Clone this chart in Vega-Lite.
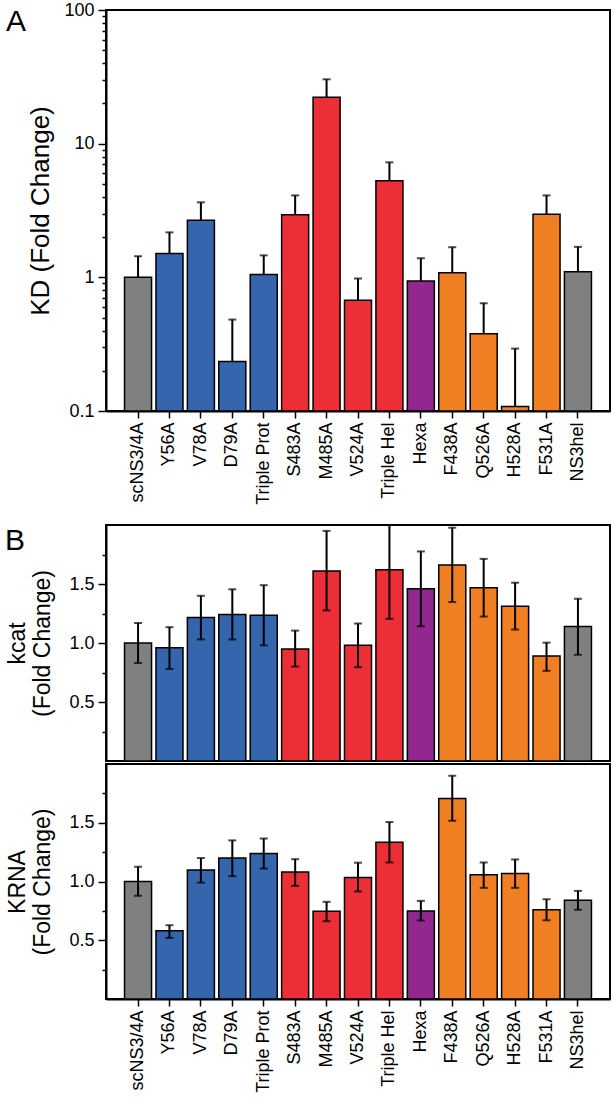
{
  "$schema": "https://vega.github.io/schema/vega-lite/v6.json",
  "padding": {"left": 3, "top": 0, "right": 0, "bottom": 0},
  "config": {
    "view": {"stroke": "black", "strokeWidth": 2},
    "font": "Liberation Sans",
    "axis": {
      "domainColor": "black", "domainWidth": 2, "tickColor": "black", "tickWidth": 1.5,
      "labelColor": "black", "labelFont": "Liberation Sans", "labelFontSize": 18,
      "titleFont": "Liberation Sans", "titleFontWeight": "normal", "titleColor": "black",
      "grid": false
    },
    "title": {"font": "Liberation Sans", "fontWeight": "normal", "color": "black"}
  },
  "datasets": {
    "d": [
      {"cat": "scNS3/4A", "group": "gray", "kd": 1.0, "kd_hi": 1.44, "kcat": 1.0, "kcat_lo": 0.83, "kcat_hi": 1.17, "krna": 1.0, "krna_lo": 0.878, "krna_hi": 1.125},
      {"cat": "Y56A", "group": "blue", "kd": 1.51, "kd_hi": 2.17, "kcat": 0.96, "kcat_lo": 0.78, "kcat_hi": 1.134, "krna": 0.58, "krna_lo": 0.52, "krna_hi": 0.628},
      {"cat": "V78A", "group": "blue", "kd": 2.67, "kd_hi": 3.64, "kcat": 1.216, "kcat_lo": 1.03, "kcat_hi": 1.4, "krna": 1.097, "krna_lo": 0.99, "krna_hi": 1.2},
      {"cat": "D79A", "group": "blue", "kd": 0.235, "kd_hi": 0.483, "kcat": 1.241, "kcat_lo": 1.03, "kcat_hi": 1.455, "krna": 1.199, "krna_lo": 1.045, "krna_hi": 1.35},
      {"cat": "Triple Prot", "group": "blue", "kd": 1.05, "kd_hi": 1.46, "kcat": 1.236, "kcat_lo": 0.98, "kcat_hi": 1.49, "krna": 1.239, "krna_lo": 1.11, "krna_hi": 1.366},
      {"cat": "S483A", "group": "red", "kd": 2.94, "kd_hi": 4.1, "kcat": 0.95, "kcat_lo": 0.8, "kcat_hi": 1.105, "krna": 1.08, "krna_lo": 0.963, "krna_hi": 1.19},
      {"cat": "M485A", "group": "red", "kd": 22.2, "kd_hi": 30.3, "kcat": 1.61, "kcat_lo": 1.276, "kcat_hi": 1.95, "krna": 0.747, "krna_lo": 0.662, "krna_hi": 0.827},
      {"cat": "V524A", "group": "red", "kd": 0.673, "kd_hi": 0.98, "kcat": 0.98, "kcat_lo": 0.795, "kcat_hi": 1.165, "krna": 1.034, "krna_lo": 0.915, "krna_hi": 1.16},
      {"cat": "Triple Hel", "group": "red", "kd": 5.29, "kd_hi": 7.25, "kcat": 1.62, "kcat_lo": 1.205, "kcat_hi": 2.035, "krna": 1.335, "krna_lo": 1.162, "krna_hi": 1.506},
      {"cat": "Hexa", "group": "purple", "kd": 0.94, "kd_hi": 1.39, "kcat": 1.46, "kcat_lo": 1.142, "kcat_hi": 1.776, "krna": 0.75, "krna_lo": 0.668, "krna_hi": 0.835},
      {"cat": "F438A", "group": "orange", "kd": 1.08, "kd_hi": 1.68, "kcat": 1.66, "kcat_lo": 1.347, "kcat_hi": 1.977, "krna": 1.707, "krna_lo": 1.517, "krna_hi": 1.9},
      {"cat": "Q526A", "group": "orange", "kd": 0.379, "kd_hi": 0.64, "kcat": 1.469, "kcat_lo": 1.224, "kcat_hi": 1.713, "krna": 1.057, "krna_lo": 0.946, "krna_hi": 1.162},
      {"cat": "H528A", "group": "orange", "kd": 0.108, "kd_hi": 0.293, "kcat": 1.3125, "kcat_lo": 1.114, "kcat_hi": 1.511, "krna": 1.068, "krna_lo": 0.946, "krna_hi": 1.1875},
      {"cat": "F531A", "group": "orange", "kd": 2.97, "kd_hi": 4.1, "kcat": 0.889, "kcat_lo": 0.764, "kcat_hi": 1.003, "krna": 0.759, "krna_lo": 0.67, "krna_hi": 0.849},
      {"cat": "NS3hel", "group": "gray", "kd": 1.1, "kd_hi": 1.69, "kcat": 1.139, "kcat_lo": 0.9, "kcat_hi": 1.375, "krna": 0.841, "krna_lo": 0.759, "krna_hi": 0.92}
    ]
  },
  "spacing": 18,
  "vconcat": [
    {
      "width": 504, "height": 401,
      "data": {"name": "d"},
      "title": {"text": "A", "anchor": "start", "frame": "bounds", "orient": "top", "fontSize": 30, "dy": 36, "dx": -22, "offset": 0},
      "encoding": {
        "x": {"field": "cat", "type": "nominal", "sort": null,
          "scale": {"paddingInner": 0.14, "paddingOuter": 0.59},
          "axis": {"title": null, "labelAngle": -90, "tickSize": 7, "labelPadding": 4, "domain": true}}
      },
      "layer": [
        {
          "mark": {"type": "bar", "stroke": "black", "strokeWidth": 1.5},
          "encoding": {
            "y": {"field": "kd", "type": "quantitative",
              "scale": {"type": "log", "domain": [0.1, 100], "nice": false},
              "axis": {"title": "KD (Fold Change)", "titleFontSize": 26, "titlePadding": 10,
                "values": [0.1, 0.2, 0.3, 0.4, 0.5, 0.6, 0.7, 0.8, 0.9, 1, 2, 3, 4, 5, 6, 7, 8, 9, 10, 20, 30, 40, 50, 60, 70, 80, 90, 100],
                "tickCount": 40,
                "labelExpr": "indexof([0.1, 1, 10, 100], datum.value) >= 0 ? format(datum.value, '~g') : ''",
                "tickSize": {"condition": {"test": "indexof([0.1, 1, 10, 100], datum.value) >= 0", "value": 8}, "value": 4},
                "labelOverlap": false, "labelBound": false,
                "labelPadding": 4}},
            "y2": {"datum": 0.1},
            "color": {"field": "group", "type": "nominal",
              "scale": {"domain": ["gray", "blue", "red", "purple", "orange"], "range": ["#808080", "#3465AD", "#EC2F36", "#92278F", "#F07E22"]},
              "legend": null}
          }
        },
        {
          "mark": {"type": "rule", "color": "black", "strokeWidth": 2},
          "encoding": {"y": {"field": "kd", "type": "quantitative"}, "y2": {"field": "kd_hi"}}
        },
        {
          "mark": {"type": "tick", "color": "black", "size": 8, "thickness": 2},
          "encoding": {"y": {"field": "kd_hi", "type": "quantitative"}}
        }
      ]
    },
    {
      "spacing": 0,
      "vconcat": [
        {
          "width": 504, "height": 236,
          "data": {"name": "d"},
          "title": {"text": "B", "anchor": "start", "frame": "bounds", "orient": "top", "fontSize": 30, "dy": 31, "dx": -2, "offset": 0},
          "encoding": {
            "x": {"field": "cat", "type": "nominal", "sort": null,
              "scale": {"paddingInner": 0.14, "paddingOuter": 0.59}, "axis": null}
          },
          "layer": [
            {
              "mark": {"type": "bar", "stroke": "black", "strokeWidth": 1.5},
              "encoding": {
                "y": {"field": "kcat", "type": "quantitative",
                  "scale": {"domain": [0, 2], "nice": false},
                  "axis": {"title": ["kcat", "(Fold Change)"], "titleFontSize": 23, "titleLineHeight": 25, "titlePadding": 14,
                    "values": [0.25, 0.5, 0.75, 1, 1.25, 1.5, 1.75], "format": ".1f", "tickCount": 20,
                    "labelExpr": "indexof([0.5, 1, 1.5], datum.value) >= 0 ? datum.label : ''",
                    "tickSize": {"condition": {"test": "indexof([0.5, 1, 1.5], datum.value) >= 0", "value": 8}, "value": 4},
                    "labelOverlap": false, "labelBound": false,
                    "labelPadding": 4}},
                "color": {"field": "group", "type": "nominal",
                  "scale": {"domain": ["gray", "blue", "red", "purple", "orange"], "range": ["#808080", "#3465AD", "#EC2F36", "#92278F", "#F07E22"]},
                  "legend": null}
              }
            },
            {
              "mark": {"type": "rule", "color": "black", "strokeWidth": 2, "clip": true},
              "encoding": {"y": {"field": "kcat_lo", "type": "quantitative"}, "y2": {"field": "kcat_hi"}}
            },
            {
              "mark": {"type": "tick", "color": "black", "size": 8, "thickness": 2, "clip": true},
              "encoding": {"y": {"field": "kcat_lo", "type": "quantitative"}}
            },
            {
              "mark": {"type": "tick", "color": "black", "size": 8, "thickness": 2, "clip": true},
              "encoding": {"y": {"field": "kcat_hi", "type": "quantitative"}}
            }
          ]
        },
        {
          "width": 504, "height": 235,
          "data": {"name": "d"},
          "encoding": {
            "x": {"field": "cat", "type": "nominal", "sort": null,
              "scale": {"paddingInner": 0.14, "paddingOuter": 0.59},
              "axis": {"title": null, "labelAngle": -90, "tickSize": 7, "labelPadding": 4}}
          },
          "layer": [
            {
              "mark": {"type": "bar", "stroke": "black", "strokeWidth": 1.5},
              "encoding": {
                "y": {"field": "krna", "type": "quantitative",
                  "scale": {"domain": [0, 2], "nice": false},
                  "axis": {"title": ["KRNA", "(Fold Change)"], "titleFontSize": 23, "titleLineHeight": 25, "titlePadding": 14,
                    "values": [0.25, 0.5, 0.75, 1, 1.25, 1.5, 1.75], "format": ".1f", "tickCount": 20,
                    "labelExpr": "indexof([0.5, 1, 1.5], datum.value) >= 0 ? datum.label : ''",
                    "tickSize": {"condition": {"test": "indexof([0.5, 1, 1.5], datum.value) >= 0", "value": 8}, "value": 4},
                    "labelOverlap": false, "labelBound": false,
                    "labelPadding": 4}},
                "color": {"field": "group", "type": "nominal",
                  "scale": {"domain": ["gray", "blue", "red", "purple", "orange"], "range": ["#808080", "#3465AD", "#EC2F36", "#92278F", "#F07E22"]},
                  "legend": null}
              }
            },
            {
              "mark": {"type": "rule", "color": "black", "strokeWidth": 2},
              "encoding": {"y": {"field": "krna_lo", "type": "quantitative"}, "y2": {"field": "krna_hi"}}
            },
            {
              "mark": {"type": "tick", "color": "black", "size": 8, "thickness": 2},
              "encoding": {"y": {"field": "krna_lo", "type": "quantitative"}}
            },
            {
              "mark": {"type": "tick", "color": "black", "size": 8, "thickness": 2},
              "encoding": {"y": {"field": "krna_hi", "type": "quantitative"}}
            }
          ]
        }
      ]
    }
  ]
}
